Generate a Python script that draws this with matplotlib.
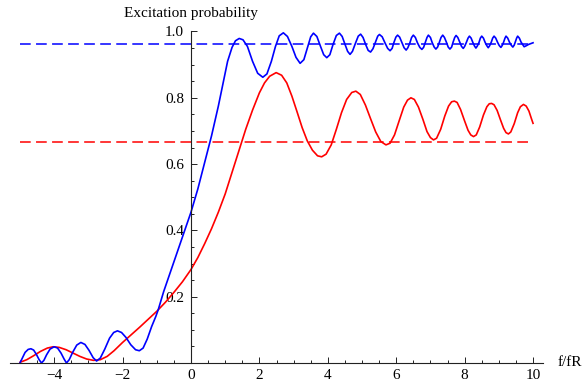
import matplotlib.pyplot as plt
from matplotlib.ticker import MultipleLocator

plt.rcParams['font.family'] = ['Liberation Serif', 'DejaVu Serif']

# blue curve
blue_x = [-5.0, -4.93, -4.85, -4.76, -4.68, -4.6, -4.52, -4.44, -4.37, -4.3,
          -4.22, -4.12, -4.0, -3.9, -3.8, -3.71, -3.64, -3.56, -3.46, -3.34,
          -3.22, -3.1, -2.98, -2.86, -2.76, -2.65, -2.52, -2.38, -2.26, -2.15,
          -2.03, -1.9, -1.76, -1.62, -1.51, -1.4, -1.28, -1.15, -1.03, -0.96,
          -0.8, -0.6, -0.4, -0.2, 0.0, 0.2, 0.4, 0.6, 0.8, 0.95,
          1.07, 1.2, 1.3, 1.41, 1.52, 1.65, 1.8, 1.95, 2.1, 2.22,
          2.35, 2.47, 2.58, 2.7, 2.82, 2.95, 3.07, 3.19, 3.3, 3.4,
          3.5, 3.58, 3.68, 3.78, 3.88, 3.97, 4.06, 4.15, 4.25, 4.34,
          4.42, 4.5, 4.58, 4.65, 4.72, 4.81, 4.89, 4.96, 5.03, 5.11,
          5.18, 5.25, 5.32, 5.4, 5.46, 5.51, 5.59, 5.67, 5.75, 5.82,
          5.88, 5.93, 5.99, 6.04, 6.10, 6.17, 6.23, 6.29, 6.34, 6.40,
          6.45, 6.50, 6.56, 6.62, 6.69, 6.75, 6.80, 6.85, 6.90, 6.94,
          7.0, 7.05, 7.11, 7.16, 7.21, 7.26, 7.31, 7.36, 7.41, 7.47,
          7.52, 7.57, 7.62, 7.66, 7.71, 7.75, 7.80, 7.86, 7.91, 7.96,
          8.0, 8.05, 8.10, 8.14, 8.19, 8.24, 8.29, 8.33, 8.37, 8.42,
          8.46, 8.50, 8.55, 8.60, 8.65, 8.69, 8.73, 8.78, 8.82, 8.86,
          8.91, 8.96, 9.01, 9.06, 9.10, 9.14, 9.18, 9.21, 9.26, 9.31,
          9.36, 9.41, 9.45, 9.48, 9.52, 9.55, 9.60, 9.65, 9.70, 9.74,
          9.80, 9.87, 10.0]
blue_y = [0.0, 0.015, 0.032, 0.041, 0.043, 0.039, 0.026, 0.01, 0.0, 0.008,
          0.025, 0.042, 0.049, 0.045, 0.03, 0.012, 0.0, 0.01, 0.032, 0.054,
          0.062, 0.056, 0.038, 0.016, 0.006, 0.015, 0.042, 0.075, 0.092, 0.097,
          0.092, 0.077, 0.055, 0.04, 0.037, 0.045, 0.072, 0.11, 0.14, 0.16,
          0.215, 0.275, 0.335, 0.395, 0.455, 0.525, 0.605, 0.685, 0.775, 0.85,
          0.91, 0.952, 0.972, 0.979, 0.975, 0.955, 0.91, 0.874, 0.862, 0.872,
          0.91, 0.955, 0.987, 0.996, 0.985, 0.955, 0.922, 0.904, 0.915, 0.95,
          0.984, 0.995, 0.985, 0.957, 0.93, 0.921, 0.93, 0.96, 0.988, 0.995,
          0.985, 0.962, 0.94, 0.931, 0.94, 0.965, 0.986, 0.992, 0.982, 0.96,
          0.943, 0.938, 0.948, 0.97, 0.986, 0.991, 0.984, 0.966, 0.949, 0.942,
          0.949, 0.966, 0.983, 0.989, 0.983, 0.966, 0.951, 0.944, 0.951, 0.966,
          0.982, 0.989, 0.982, 0.966, 0.952, 0.946, 0.952, 0.967, 0.982, 0.989,
          0.982, 0.967, 0.953, 0.947, 0.953, 0.967, 0.982, 0.989, 0.982, 0.967,
          0.953, 0.947, 0.953, 0.967, 0.982, 0.988, 0.982, 0.967, 0.955, 0.949,
          0.955, 0.967, 0.980, 0.986, 0.980, 0.967, 0.956, 0.950, 0.956, 0.967,
          0.980, 0.986, 0.980, 0.967, 0.957, 0.951, 0.957, 0.968, 0.980, 0.986,
          0.980, 0.968, 0.958, 0.952, 0.958, 0.968, 0.980, 0.986, 0.980, 0.968,
          0.959, 0.953, 0.959, 0.968, 0.980, 0.986, 0.980, 0.968, 0.960, 0.954,
          0.957, 0.961, 0.966]

# red curve
red_x = [-5.0, -4.8, -4.6, -4.4, -4.2, -4.03, -3.85, -3.65, -3.45, -3.25,
         -3.05, -2.85, -2.65, -2.45, -2.25, -2.0, -1.75, -1.5, -1.25, -1.0,
         -0.75, -0.5, -0.25, 0.0, 0.2, 0.4, 0.6, 0.8, 1.0, 1.2,
         1.4, 1.6, 1.8, 2.0, 2.15, 2.3, 2.49, 2.65, 2.8, 2.95,
         3.1, 3.25, 3.4, 3.55, 3.7, 3.82, 3.95, 4.1, 4.25, 4.4,
         4.55, 4.7, 4.82, 4.95, 5.1, 5.25, 5.4, 5.55, 5.7, 5.82,
         5.95, 6.1, 6.22, 6.33, 6.43, 6.53, 6.65, 6.78, 6.9, 7.0,
         7.09, 7.18, 7.3, 7.42, 7.53, 7.62, 7.70, 7.78, 7.88, 8.0,
         8.1, 8.18, 8.26, 8.34, 8.44, 8.55, 8.65, 8.72, 8.79, 8.86,
         8.95, 9.05, 9.14, 9.21, 9.28, 9.35, 9.45, 9.55, 9.63, 9.72,
         9.8, 9.88, 9.95, 10.0]
red_y = [0.002, 0.01, 0.022, 0.035, 0.045, 0.049, 0.047, 0.04, 0.03, 0.02,
         0.012, 0.008, 0.01, 0.02, 0.037, 0.062, 0.085, 0.108, 0.132, 0.156,
         0.183, 0.213, 0.245, 0.282, 0.318, 0.36, 0.405, 0.455, 0.51, 0.575,
         0.64, 0.705, 0.763, 0.815, 0.845, 0.865, 0.876, 0.868, 0.845, 0.805,
         0.758, 0.71, 0.67, 0.642, 0.625, 0.622, 0.63, 0.658, 0.705, 0.755,
         0.795, 0.816, 0.82, 0.81, 0.778, 0.737, 0.697, 0.668, 0.658, 0.663,
         0.688, 0.735, 0.772, 0.793, 0.80, 0.795, 0.772, 0.735, 0.698, 0.68,
         0.673, 0.678, 0.705, 0.745, 0.775, 0.788, 0.79, 0.786, 0.765, 0.73,
         0.702, 0.688, 0.683, 0.688, 0.712, 0.748, 0.773, 0.782, 0.783, 0.779,
         0.762, 0.733, 0.708, 0.695, 0.691, 0.697, 0.722, 0.755, 0.773, 0.78,
         0.775, 0.76, 0.738, 0.723]

# dashed reference levels
blue_level = 0.962
red_level = 0.667
x_span = [-5.0, 10.0]

fig = plt.figure(figsize=(5.84, 3.83), dpi=100)
ax = fig.add_axes([9.7 / 584, 20 / 383, 533.6 / 584, 331.5 / 383])

ax.plot(x_span, [blue_level, blue_level], color='blue', lw=1.1,
        dashes=(7, 3.5), clip_on=False)
ax.plot(x_span, [red_level, red_level], color='red', lw=1.1,
        dashes=(7, 3.5), clip_on=False)
ax.plot(red_x, red_y, color='red', lw=1.2, clip_on=False)
ax.plot(blue_x, blue_y, color='blue', lw=1.2, clip_on=False)

ax.set_xlim(-5.3, 10.3)
ax.set_ylim(0, 1.0)

ax.spines['top'].set_visible(False)
ax.spines['right'].set_visible(False)
ax.spines['left'].set_position(('data', 0))
ax.spines['bottom'].set_position(('data', 0))
for s in ['left', 'bottom']:
    ax.spines[s].set_linewidth(0.8)
    ax.spines[s].set_color('#222222')

ax.set_xticks([-4, -2, 0, 2, 4, 6, 8, 10])
ax.set_xticklabels(['\u22124', '\u22122', '0', '2', '4', '6', '8', '10'])
ax.xaxis.set_minor_locator(MultipleLocator(0.5))
ax.set_yticks([0.2, 0.4, 0.6, 0.8, 1.0])
ax.set_yticklabels(['0.2', '0.4', '0.6', '0.8', '1.0'])
ax.yaxis.set_minor_locator(MultipleLocator(0.05))

ax.tick_params(which='both', direction='in', width=0.7, color='#222222',
               labelsize=11)
ax.tick_params(which='major', length=4.3)
ax.tick_params(which='minor', length=2.5)
ax.tick_params(axis='x', pad=4)
ax.tick_params(axis='y', pad=5)

ax.annotate('Excitation probability', xy=(0, 1.0), xytext=(0, 13.3),
            textcoords='offset points', ha='center', va='center', fontsize=11)
ax.annotate('f/fR', xy=(1.0, 0.0), xycoords='axes fraction', xytext=(10, 0),
            textcoords='offset points', ha='left', va='center', fontsize=11)

plt.savefig('out.png', dpi=100)
